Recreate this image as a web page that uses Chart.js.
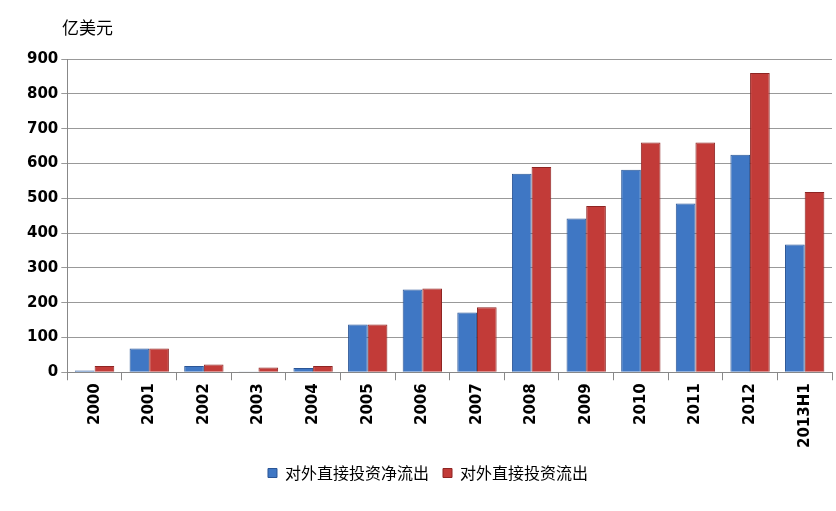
<!DOCTYPE html>
<html><head><meta charset="utf-8">
<script src="https://cdn.jsdelivr.net/npm/chart.js@4/dist/chart.umd.min.js"></script>
<style>body{margin:0;background:#fff}#wrap{position:relative;width:836px;height:511px}
#unit{position:absolute;left:62px;top:14px;font:17px "Noto Sans CJK SC";color:#000}</style>
</head><body><div id="wrap"><div id="unit">亿美元</div><canvas id="c" width="836" height="511"></canvas></div>
<script>
var years = ["2000","2001","2002","2003","2004","2005","2006","2007","2008","2009","2010","2011","2012","2013H1"];
var netOut = [5, 68, 18, 2, 12, 137, 238, 172, 570, 442, 582, 485, 625, 367];
var grossOut = [18, 68, 22, 14, 18, 137, 241, 187, 590, 478, 660, 660, 860, 518];

var ctx = document.getElementById("c").getContext('2d');
new Chart(ctx, {
    type: 'bar',
    data: {
        labels: years,
        datasets: [
            { label: '对外直接投资净流出', data: netOut, backgroundColor: '#3f77c4', borderColor: '#2a5596', borderWidth: 1 },
            { label: '对外直接投资流出', data: grossOut, backgroundColor: '#c23b38', borderColor: '#8e2523', borderWidth: 1 }
        ]
    },
    options: {
        responsive: false,
        animation: false,
        layout: { padding: { left: 24, right: 4, top: 59, bottom: 20 } },
        plugins: {
            legend: { position: 'bottom', labels: { boxWidth: 9, boxHeight: 9, font: { family: 'Noto Sans CJK SC', size: 16 }, color: '#000', padding: 14 } },
            tooltip: { enabled: false }
        },
        datasets: { bar: { categoryPercentage: 0.72, barPercentage: 1.0 } },
        scales: {
            x: {
                grid: { display: true, drawOnChartArea: false, offset: true, color: '#888', tickLength: 8 },
                border: { color: '#888' },
                ticks: { maxRotation: 90, minRotation: 90, color: '#000', font: { family: 'DejaVu Sans', size: 15, weight: 'bold' } }
            },
            y: {
                min: 0, max: 900,
                ticks: { stepSize: 100, color: '#000', font: { family: 'DejaVu Sans', size: 15, weight: 'bold' } },
                grid: { color: '#999', tickLength: 6 },
                border: { color: '#888' }
            }
        }
    }
});
</script></body></html>
